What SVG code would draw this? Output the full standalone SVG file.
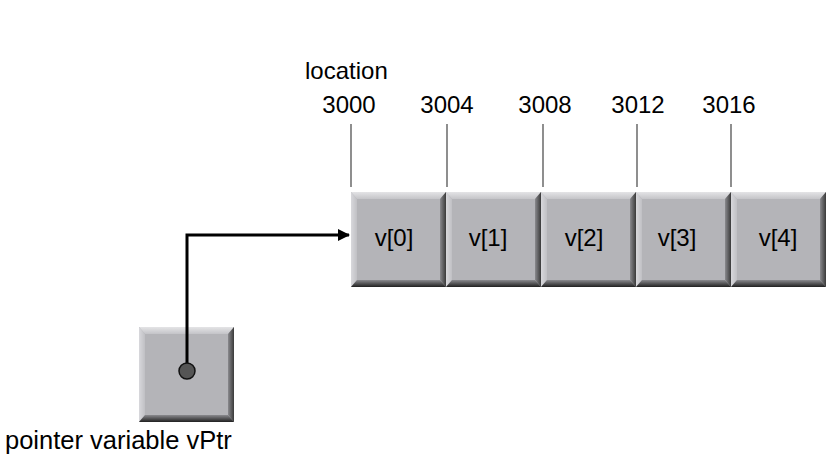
<svg xmlns="http://www.w3.org/2000/svg" xmlns:xlink="http://www.w3.org/1999/xlink" width="827" height="472" viewBox="0 0 827 472">
<style>
text{font-family:"Liberation Sans",Arial,sans-serif;font-size:24px;fill:#000}
.c{text-anchor:middle}
.tick{stroke:#444;stroke-width:1.2}
.conn{stroke:#000;stroke-width:3;fill:none}
</style>
<defs>
<linearGradient id="gb" x1="0" y1="0" x2="0" y2="1"><stop offset="0" stop-color="#8a8a8e"/><stop offset="1" stop-color="#202020"/></linearGradient>
<linearGradient id="gr" x1="0" y1="0" x2="1" y2="0"><stop offset="0" stop-color="#8a8a8e"/><stop offset="1" stop-color="#3a3a3a"/></linearGradient>
<linearGradient id="gt" x1="0" y1="0" x2="0" y2="1"><stop offset="0" stop-color="#e4e4e6"/><stop offset="1" stop-color="#c4c4c8"/></linearGradient>
<linearGradient id="gl" x1="0" y1="0" x2="1" y2="0"><stop offset="0" stop-color="#d8d8dc"/><stop offset="1" stop-color="#c0c0c4"/></linearGradient>
<g id="cell">
<rect x="0" y="0" width="95" height="95" fill="#b4b4b8"/>
<polygon points="0,0 95,0 89,7 6,7" fill="url(#gt)"/>
<polygon points="0,0 6,7 6,88 0,95" fill="url(#gl)"/>
<polygon points="95,0 95,95 89,88 89,7" fill="url(#gr)"/>
<polygon points="0,95 95,95 89,88 6,88" fill="url(#gb)"/>
</g>
<marker id="ah" markerWidth="12" markerHeight="12" refX="11" refY="6" orient="auto" markerUnits="userSpaceOnUse" viewBox="0 0 12 12"><path d="M0,0 L12,6 L0,12 z" fill="#000"/></marker>
</defs>
<text x="305" y="79">location</text>
<g id="ticks">
<text class="c" x="349" y="113">3000</text>
<text class="c" x="447" y="113">3004</text>
<text class="c" x="545" y="113">3008</text>
<text class="c" x="638" y="113">3012</text>
<text class="c" x="729" y="113">3016</text>
<line class="tick" x1="351" y1="124" x2="351" y2="187"/>
<line class="tick" x1="447" y1="124" x2="447" y2="187"/>
<line class="tick" x1="543" y1="124" x2="543" y2="187"/>
<line class="tick" x1="637" y1="124" x2="637" y2="187"/>
<line class="tick" x1="731" y1="124" x2="731" y2="187"/>
</g>
<g id="v0"><use xlink:href="#cell" x="351" y="192"/><text class="c" x="394" y="246">v[0]</text></g>
<g id="v1"><use xlink:href="#cell" x="446" y="192"/><text class="c" x="488" y="246">v[1]</text></g>
<g id="v2"><use xlink:href="#cell" x="541" y="192"/><text class="c" x="584" y="246">v[2]</text></g>
<g id="v3"><use xlink:href="#cell" x="636" y="192"/><text class="c" x="677" y="246">v[3]</text></g>
<g id="v4"><use xlink:href="#cell" x="731" y="192"/><text class="c" x="778" y="246">v[4]</text></g>
<g id="vPtr"><use xlink:href="#cell" x="139" y="327"/><text x="5" y="449" style="font-size:25.5px">pointer variable vPtr</text></g>
<g id="connectors">
<polyline class="conn" points="187,371 187,235 349,235" marker-end="url(#ah)"/>
<circle cx="187" cy="371" r="8" fill="#555" stroke="#111" stroke-width="1.5"/>
</g>
</svg>
